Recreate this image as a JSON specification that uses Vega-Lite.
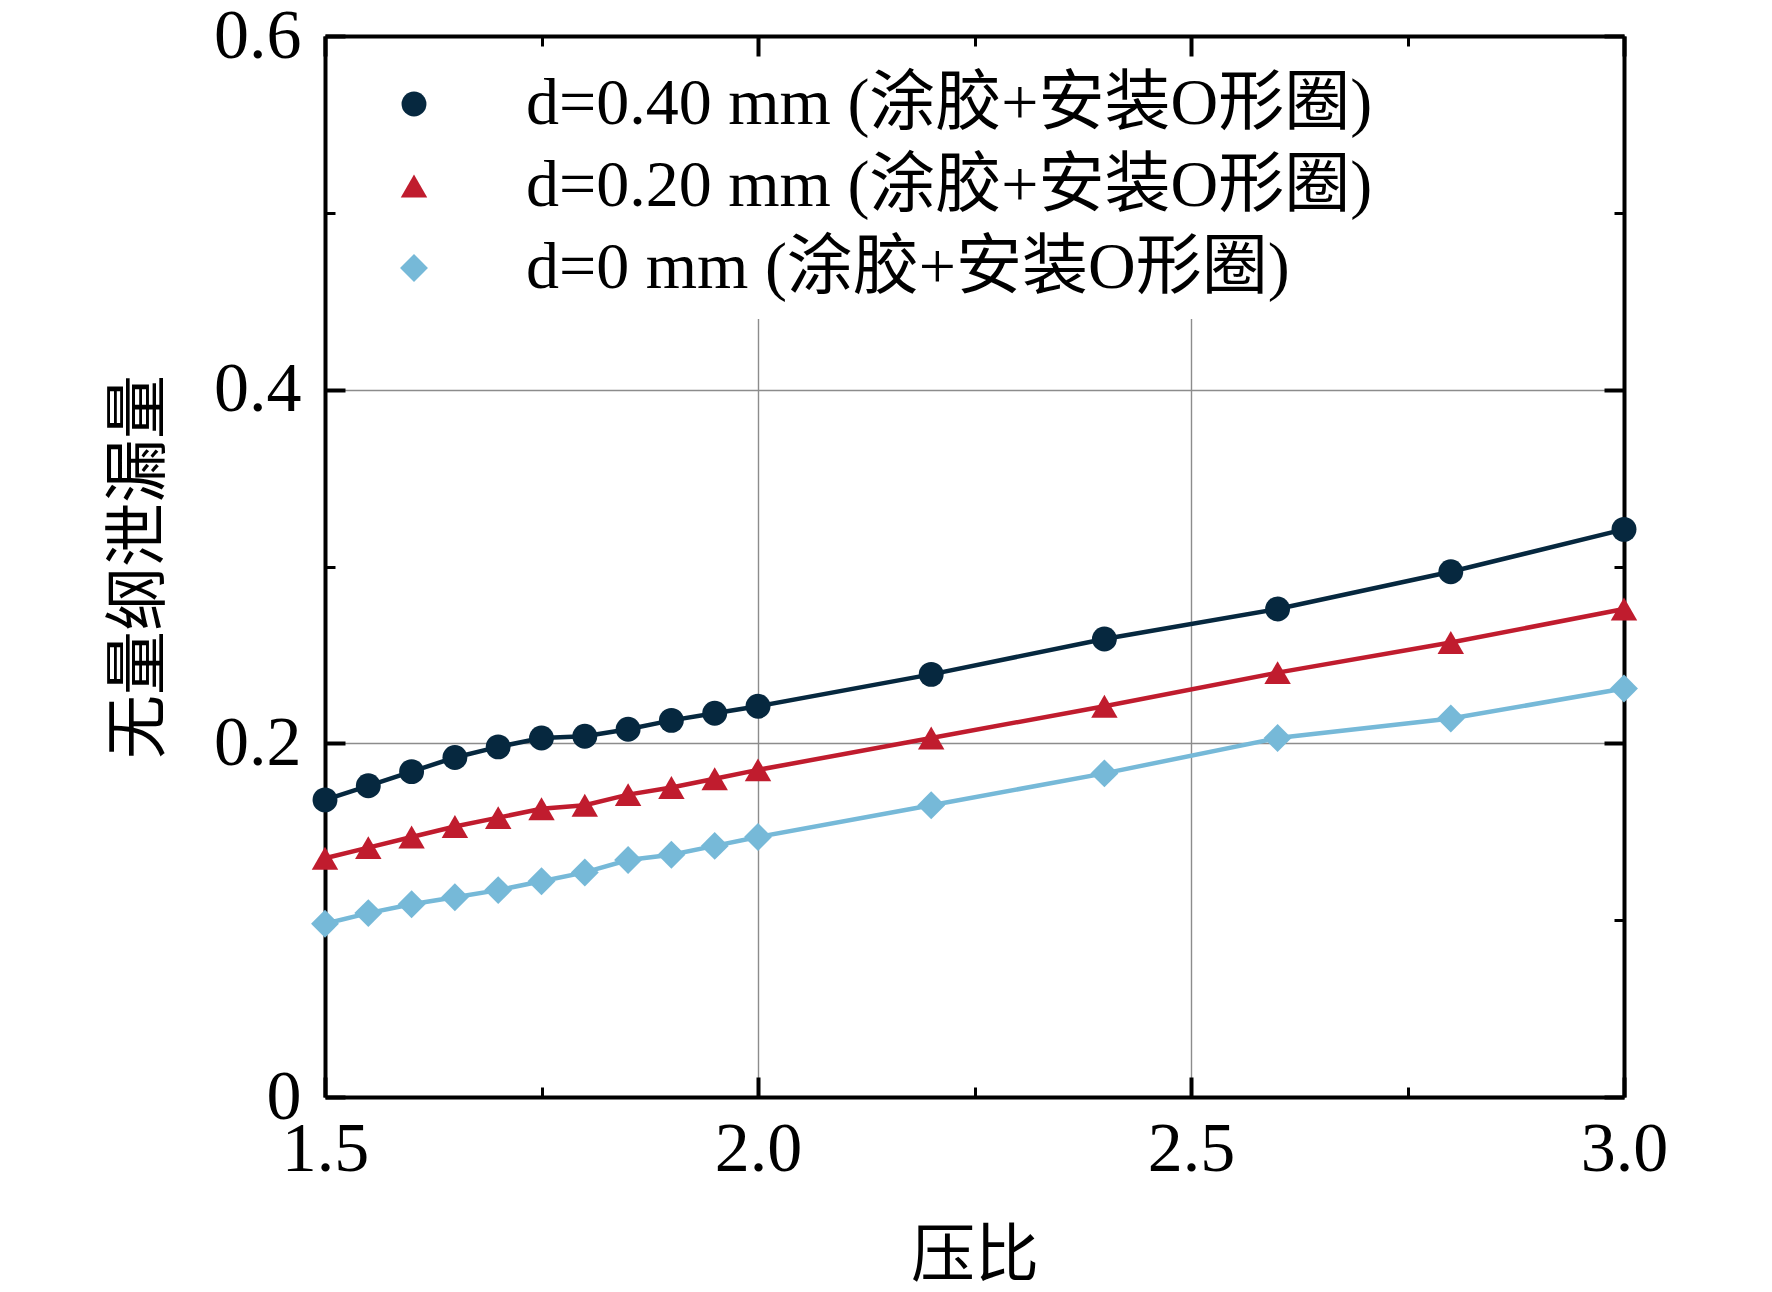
{
  "$schema": "https://vega.github.io/schema/vega-lite/v6.json",
  "width": 1299,
  "height": 1061,
  "autosize": {"type": "none"},
  "padding": {"left": 325, "top": 36, "right": 148, "bottom": 195},
  "background": "white",
  "config": {
    "view": {"stroke": null},
    "font": "Liberation Serif, Noto Sans CJK SC",
    "axis": {
      "labelFont": "Liberation Serif, Noto Sans CJK SC",
      "titleFont": "Liberation Serif, Noto Sans CJK SC",
      "labelColor": "black",
      "titleColor": "black",
      "domainColor": "black",
      "domainWidth": 4,
      "tickColor": "black",
      "gridColor": "#8c8c8c",
      "gridWidth": 1.4
    }
  },
  "data": {
    "values": [
      {"x": 1.5, "y": 0.168, "s": "d=0.40 mm (涂胶+安装O形圈)"},
      {"x": 1.55, "y": 0.176, "s": "d=0.40 mm (涂胶+安装O形圈)"},
      {"x": 1.6, "y": 0.184, "s": "d=0.40 mm (涂胶+安装O形圈)"},
      {"x": 1.65, "y": 0.192, "s": "d=0.40 mm (涂胶+安装O形圈)"},
      {"x": 1.7, "y": 0.198, "s": "d=0.40 mm (涂胶+安装O形圈)"},
      {"x": 1.75, "y": 0.203, "s": "d=0.40 mm (涂胶+安装O形圈)"},
      {"x": 1.8, "y": 0.204, "s": "d=0.40 mm (涂胶+安装O形圈)"},
      {"x": 1.85, "y": 0.208, "s": "d=0.40 mm (涂胶+安装O形圈)"},
      {"x": 1.9, "y": 0.213, "s": "d=0.40 mm (涂胶+安装O形圈)"},
      {"x": 1.95, "y": 0.217, "s": "d=0.40 mm (涂胶+安装O形圈)"},
      {"x": 2.0, "y": 0.221, "s": "d=0.40 mm (涂胶+安装O形圈)"},
      {"x": 2.2, "y": 0.239, "s": "d=0.40 mm (涂胶+安装O形圈)"},
      {"x": 2.4, "y": 0.259, "s": "d=0.40 mm (涂胶+安装O形圈)"},
      {"x": 2.6, "y": 0.276, "s": "d=0.40 mm (涂胶+安装O形圈)"},
      {"x": 2.8, "y": 0.297, "s": "d=0.40 mm (涂胶+安装O形圈)"},
      {"x": 3.0, "y": 0.321, "s": "d=0.40 mm (涂胶+安装O形圈)"},
      {"x": 1.5, "y": 0.135, "s": "d=0.20 mm (涂胶+安装O形圈)"},
      {"x": 1.55, "y": 0.141, "s": "d=0.20 mm (涂胶+安装O形圈)"},
      {"x": 1.6, "y": 0.147, "s": "d=0.20 mm (涂胶+安装O形圈)"},
      {"x": 1.65, "y": 0.153, "s": "d=0.20 mm (涂胶+安装O形圈)"},
      {"x": 1.7, "y": 0.158, "s": "d=0.20 mm (涂胶+安装O形圈)"},
      {"x": 1.75, "y": 0.163, "s": "d=0.20 mm (涂胶+安装O形圈)"},
      {"x": 1.8, "y": 0.165, "s": "d=0.20 mm (涂胶+安装O形圈)"},
      {"x": 1.85, "y": 0.171, "s": "d=0.20 mm (涂胶+安装O形圈)"},
      {"x": 1.9, "y": 0.175, "s": "d=0.20 mm (涂胶+安装O形圈)"},
      {"x": 1.95, "y": 0.180, "s": "d=0.20 mm (涂胶+安装O形圈)"},
      {"x": 2.0, "y": 0.185, "s": "d=0.20 mm (涂胶+安装O形圈)"},
      {"x": 2.2, "y": 0.203, "s": "d=0.20 mm (涂胶+安装O形圈)"},
      {"x": 2.4, "y": 0.221, "s": "d=0.20 mm (涂胶+安装O形圈)"},
      {"x": 2.6, "y": 0.240, "s": "d=0.20 mm (涂胶+安装O形圈)"},
      {"x": 2.8, "y": 0.257, "s": "d=0.20 mm (涂胶+安装O形圈)"},
      {"x": 3.0, "y": 0.276, "s": "d=0.20 mm (涂胶+安装O形圈)"},
      {"x": 1.5, "y": 0.098, "s": "d=0 mm (涂胶+安装O形圈)"},
      {"x": 1.55, "y": 0.104, "s": "d=0 mm (涂胶+安装O形圈)"},
      {"x": 1.6, "y": 0.109, "s": "d=0 mm (涂胶+安装O形圈)"},
      {"x": 1.65, "y": 0.113, "s": "d=0 mm (涂胶+安装O形圈)"},
      {"x": 1.7, "y": 0.117, "s": "d=0 mm (涂胶+安装O形圈)"},
      {"x": 1.75, "y": 0.122, "s": "d=0 mm (涂胶+安装O形圈)"},
      {"x": 1.8, "y": 0.127, "s": "d=0 mm (涂胶+安装O形圈)"},
      {"x": 1.85, "y": 0.134, "s": "d=0 mm (涂胶+安装O形圈)"},
      {"x": 1.9, "y": 0.137, "s": "d=0 mm (涂胶+安装O形圈)"},
      {"x": 1.95, "y": 0.142, "s": "d=0 mm (涂胶+安装O形圈)"},
      {"x": 2.0, "y": 0.147, "s": "d=0 mm (涂胶+安装O形圈)"},
      {"x": 2.2, "y": 0.165, "s": "d=0 mm (涂胶+安装O形圈)"},
      {"x": 2.4, "y": 0.183, "s": "d=0 mm (涂胶+安装O形圈)"},
      {"x": 2.6, "y": 0.203, "s": "d=0 mm (涂胶+安装O形圈)"},
      {"x": 2.8, "y": 0.214, "s": "d=0 mm (涂胶+安装O形圈)"},
      {"x": 3.0, "y": 0.231, "s": "d=0 mm (涂胶+安装O形圈)"}
    ]
  },
  "layer": [
    {
      "mark": {"type": "line", "strokeWidth": 4.5, "clip": false},
      "encoding": {
        "x": {
          "field": "x", "type": "quantitative",
          "scale": {"domain": [1.5, 3.0], "nice": false, "zero": false},
          "axis": {
            "orient": "bottom",
            "title": "压比",
            "titleFontSize": 64,
            "titleFontWeight": "normal",
            "titlePadding": 30,
            "values": [1.5, 1.75, 2.0, 2.25, 2.5, 2.75, 3.0],
            "labelExpr": "indexof([1.75, 2.25, 2.75], datum.value) >= 0 ? '' : format(datum.value, '.1f')",
            "labelFontSize": 70,
            "labelPadding": 38,
            "labelFlush": false,
            "labelOverlap": false,
            "tickSize": {"condition": {"test": "indexof([1.75, 2.25, 2.75], datum.value) >= 0", "value": -10}, "value": -20},
            "tickWidth": {"condition": {"test": "indexof([1.75, 2.25, 2.75], datum.value) >= 0", "value": 3}, "value": 4},
            "grid": true,
            "gridOpacity": {"condition": {"test": "datum.value == 2 || datum.value == 2.5", "value": 1}, "value": 0}
          }
        },
        "y": {
          "field": "y", "type": "quantitative",
          "scale": {"domain": [0, 0.6], "nice": false},
          "axis": {
            "orient": "left",
            "title": "无量纲泄漏量",
            "titleFontSize": 64,
            "titleFontWeight": "normal",
            "titlePadding": 42,
            "values": [0, 0.1, 0.2, 0.3, 0.4, 0.5, 0.6],
            "labelExpr": "indexof([0.1, 0.3, 0.5], datum.value) >= 0 ? '' : (datum.value == 0 ? '0' : format(datum.value, '.1f'))",
            "labelFontSize": 70,
            "labelPadding": 44,
            "labelFlush": false,
            "labelOverlap": false,
            "tickSize": {"condition": {"test": "indexof([0.1, 0.3, 0.5], datum.value) >= 0", "value": -10}, "value": -20},
            "tickWidth": {"condition": {"test": "indexof([0.1, 0.3, 0.5], datum.value) >= 0", "value": 3}, "value": 4},
            "grid": true,
            "gridOpacity": {"condition": {"test": "datum.value == 0.2 || datum.value == 0.4", "value": 1}, "value": 0}
          }
        },
        "color": {
          "field": "s", "type": "nominal",
          "scale": {
            "domain": ["d=0.40 mm (涂胶+安装O形圈)", "d=0.20 mm (涂胶+安装O形圈)", "d=0 mm (涂胶+安装O形圈)"],
            "range": ["#06283f", "#c01c2e", "#76b9d8"]
          },
          "legend": {
            "title": null,
            "orient": "top-left",
            "offset": 17,
            "padding": 18,
            "fillColor": "white",
            "zindex": 1,
            "labelFont": "Liberation Serif, Noto Sans CJK SC",
            "labelFontSize": 66,
            "labelColor": "black",
            "labelLimit": 2000,
            "labelOffset": 79,
            "symbolOffset": 21,
            "symbolSize": 2500,
            "symbolOpacity": 1,
            "rowPadding": 16,
            "encode": {
              "symbols": {
                "update": {
                  "fill": {"scale": "color", "field": "value"},
                  "strokeWidth": {"value": 0},
                  "shape": {"signal": "indexof(datum.value, '0.40') >= 0 ? 'M-2.92,-0.08H2.92V0.08H-2.92ZM0.5,0A0.5,0.5 0 1 1 -0.5,0A0.5,0.5 0 1 1 0.5,0Z' : (indexof(datum.value, '0.20') >= 0 ? 'M-2.92,-0.08H2.92V0.08H-2.92ZM0,-0.5L0.56,0.48L-0.56,0.48Z' : 'M-2.92,-0.08H2.92V0.08H-2.92ZM0,-0.6L0.58,0L0,0.6L-0.58,0Z')"}
                }
              }
            }
          }
        }
      }
    },
    {
      "mark": {"type": "point", "filled": true, "opacity": 1, "clip": false},
      "encoding": {
        "x": {
          "field": "x", "type": "quantitative",
          "axis": {
            "orient": "top",
            "title": null,
            "labels": false,
            "grid": false,
            "zindex": 2,
            "values": [1.5, 1.75, 2.0, 2.25, 2.5, 2.75, 3.0],
            "tickSize": {"condition": {"test": "indexof([1.75, 2.25, 2.75], datum.value) >= 0", "value": -10}, "value": -20},
            "tickWidth": {"condition": {"test": "indexof([1.75, 2.25, 2.75], datum.value) >= 0", "value": 3}, "value": 4}
          }
        },
        "y": {
          "field": "y", "type": "quantitative",
          "axis": {
            "orient": "right",
            "title": null,
            "labels": false,
            "grid": false,
            "values": [0, 0.1, 0.2, 0.3, 0.4, 0.5, 0.6],
            "tickSize": {"condition": {"test": "indexof([0.1, 0.3, 0.5], datum.value) >= 0", "value": -10}, "value": -20},
            "tickWidth": {"condition": {"test": "indexof([0.1, 0.3, 0.5], datum.value) >= 0", "value": 3}, "value": 4}
          }
        },
        "color": {
          "field": "s", "type": "nominal",
          "legend": {
            "title": null,
            "orient": "top-left",
            "offset": 17,
            "padding": 18,
            "fillColor": "white",
            "zindex": 1,
            "labelFont": "Liberation Serif, Noto Sans CJK SC",
            "labelFontSize": 66,
            "labelColor": "black",
            "labelLimit": 2000,
            "labelOffset": 79,
            "symbolOffset": 21,
            "symbolSize": 2500,
            "symbolOpacity": 1,
            "rowPadding": 16,
            "encode": {
              "symbols": {
                "update": {
                  "fill": {"scale": "color", "field": "value"},
                  "strokeWidth": {"value": 0},
                  "shape": {"signal": "indexof(datum.value, '0.40') >= 0 ? 'M-2.92,-0.08H2.92V0.08H-2.92ZM0.5,0A0.5,0.5 0 1 1 -0.5,0A0.5,0.5 0 1 1 0.5,0Z' : (indexof(datum.value, '0.20') >= 0 ? 'M-2.92,-0.08H2.92V0.08H-2.92ZM0,-0.5L0.56,0.48L-0.56,0.48Z' : 'M-2.92,-0.08H2.92V0.08H-2.92ZM0,-0.6L0.58,0L0,0.6L-0.58,0Z')"}
                }
              }
            }
          }
        },
        "shape": {
          "field": "s", "type": "nominal",
          "scale": {
            "domain": ["d=0.40 mm (涂胶+安装O形圈)", "d=0.20 mm (涂胶+安装O形圈)", "d=0 mm (涂胶+安装O形圈)"],
            "range": ["circle", "triangle-up", "diamond"]
          },
          "legend": null
        },
        "size": {
          "field": "s", "type": "nominal",
          "scale": {
            "domain": ["d=0.40 mm (涂胶+安装O形圈)", "d=0.20 mm (涂胶+安装O形圈)", "d=0 mm (涂胶+安装O形圈)"],
            "range": [620, 780, 900]
          },
          "legend": null
        }
      }
    }
  ],
  "resolve": {"axis": {"x": "independent", "y": "independent"}}
}
